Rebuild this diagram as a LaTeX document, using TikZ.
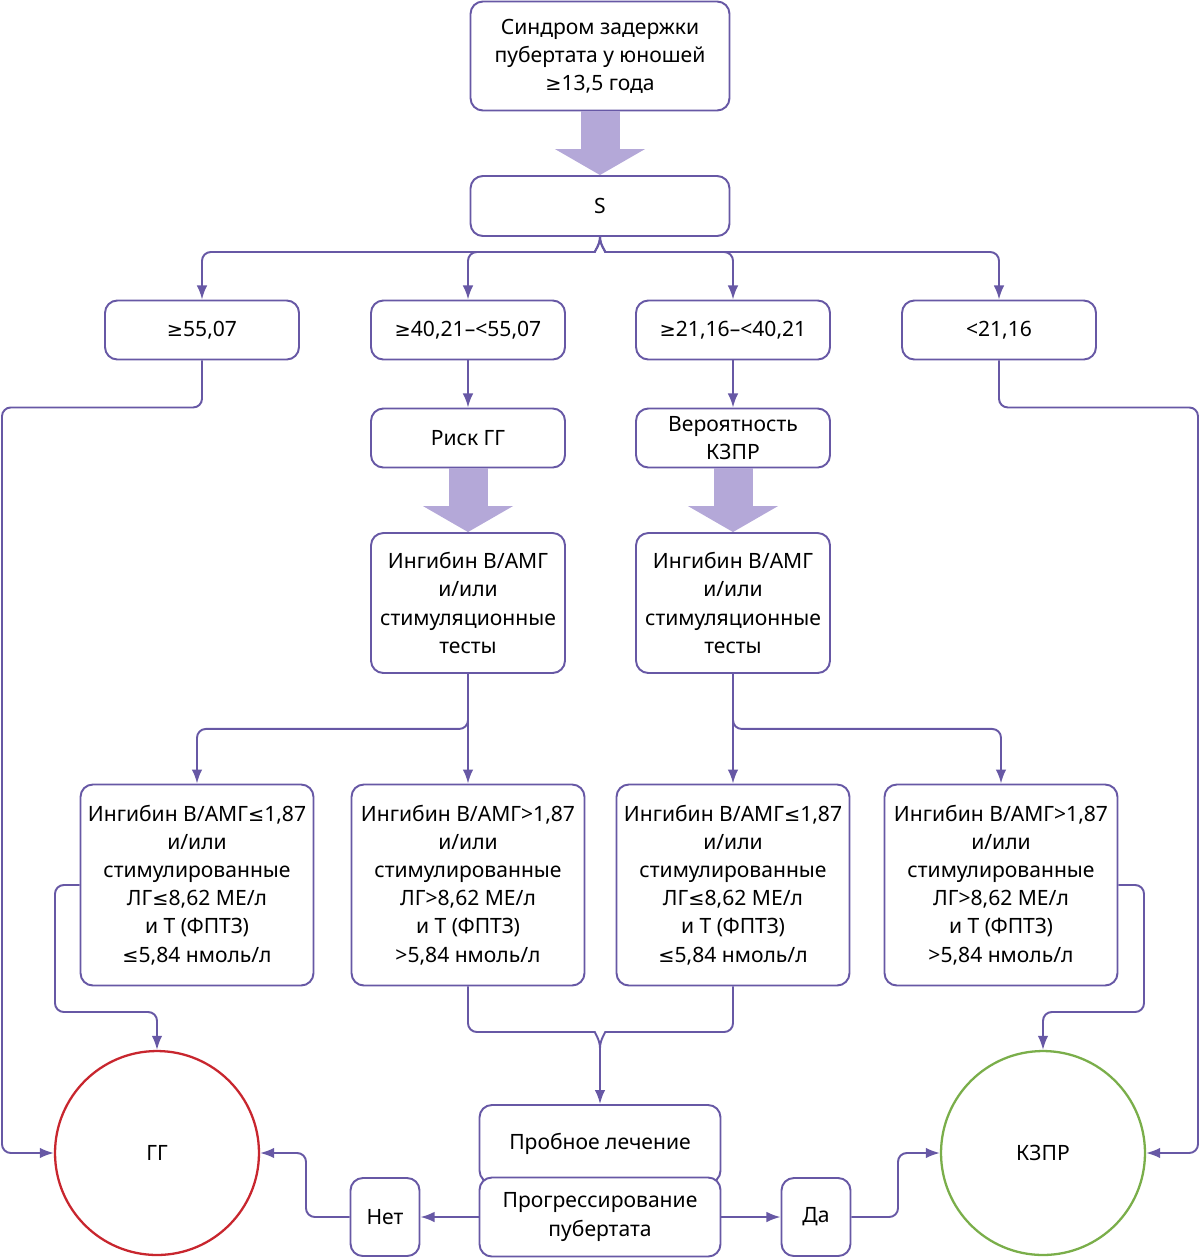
\documentclass[tikz,border=0pt]{standalone}
\usepackage{fontspec}
\setmainfont{Noto Sans}
\newfontfamily\symfont{DejaVu Sans}
\usetikzlibrary{arrows.meta,positioning}

\newcommand{\gesym}{{\symfont\fontsize{11}{16}\selectfont ≥}}
\newcommand{\lesym}{{\symfont\fontsize{11}{16}\selectfont ≤}}

\definecolor{lineviolet}{RGB}{103,88,165}
\definecolor{fatviolet}{RGB}{180,168,216}
\definecolor{ggred}{RGB}{200,38,46}
\definecolor{kzgreen}{RGB}{122,174,74}

\tikzset{
    box/.style={draw=lineviolet, line width=1.1pt, rounded corners=7pt, fill=white,
        align=center, inner sep=2pt, font=\fontsize{12}{16}\selectfont},
    link/.style={draw=lineviolet, line width=1.1pt, rounded corners=5pt,
        -{Latex[length=8pt,width=6pt]}},
    fat/.style={draw=fatviolet, line width=0.78cm,
        -{Triangle[length=0.52cm,width=1.78cm]}},
    outcome/.style={circle, line width=1.3pt, minimum size=4.08cm,
        font=\fontsize{12}{16}\selectfont},
}

\begin{document}
\begin{tikzpicture}[x=0.02cm,y=-0.02cm]
    \useasboundingbox (0,0) rectangle (1200,1258);

    % top of the scheme
    \node[box, minimum width=5.18cm, minimum height=2.18cm] (start) at (600,56)
        {Синдром задержки\\пубертата у юношей\\\gesym13,5 года};
    \node[box, minimum width=5.18cm, minimum height=1.2cm] (s) at (600,206) {S};

    % S ranges
    \node[box, minimum width=3.88cm, minimum height=1.18cm] (r1) at (202,330) {\gesym55,07};
    \node[box, minimum width=3.88cm, minimum height=1.18cm] (r2) at (468,330) {\gesym40,21–<55,07};
    \node[box, minimum width=3.88cm, minimum height=1.18cm] (r3) at (733,330) {\gesym21,16–<40,21};
    \node[box, minimum width=3.88cm, minimum height=1.18cm] (r4) at (999,330) {<21,16};

    \node[box, minimum width=3.88cm, minimum height=1.18cm] (risk) at (468,438) {Риск ГГ};
    \node[box, minimum width=3.88cm, minimum height=1.18cm] (prob) at (733,438) {Вероятность\\КЗПР};

    \node[box, minimum width=3.88cm, minimum height=2.8cm] (t1) at (468,603)
        {Ингибин В/АМГ\\и/или\\стимуляционные\\тесты};
    \node[box, minimum width=3.88cm, minimum height=2.8cm] (t2) at (733,603)
        {Ингибин В/АМГ\\и/или\\стимуляционные\\тесты};

    % test results
    \node[box, minimum width=4.66cm, minimum height=4.02cm] (b1) at (197,885)
        {Ингибин В/АМГ\lesym1,87\\и/или\\стимулированные\\ЛГ\lesym8,62 МЕ/л\\и Т (ФПТЗ)\\\lesym5,84 нмоль/л};
    \node[box, minimum width=4.66cm, minimum height=4.02cm] (b2) at (468,885)
        {Ингибин В/АМГ>1,87\\и/или\\стимулированные\\ЛГ>8,62 МЕ/л\\и Т (ФПТЗ)\\>5,84 нмоль/л};
    \node[box, minimum width=4.66cm, minimum height=4.02cm] (b3) at (733,885)
        {Ингибин В/АМГ\lesym1,87\\и/или\\стимулированные\\ЛГ\lesym8,62 МЕ/л\\и Т (ФПТЗ)\\\lesym5,84 нмоль/л};
    \node[box, minimum width=4.66cm, minimum height=4.02cm] (b4) at (1001,885)
        {Ингибин В/АМГ>1,87\\и/или\\стимулированные\\ЛГ>8,62 МЕ/л\\и Т (ФПТЗ)\\>5,84 нмоль/л};

    % outcomes
    \node[outcome, draw=ggred] (gg) at (157,1153) {ГГ};
    \node[outcome, draw=kzgreen] (kz) at (1043,1153) {КЗПР};

    \node[box, minimum width=4.82cm, minimum height=1.56cm] (trial) at (600,1144) {Пробное лечение};
    \node[box, minimum width=4.82cm, minimum height=1.58cm] (prog) at (600,1217) {Прогрессирование\\пубертата};
    \node[box, minimum width=1.38cm, minimum height=1.56cm] (net) at (385,1217) {Нет};
    \node[box, minimum width=1.38cm, minimum height=1.56cm] (da) at (816,1217) {Да};

    \coordinate (mj) at (600,1048);

    % fat arrows
    \draw[fat] (start) -- (s.north);
    \draw[fat] (risk) -- (t1.north);
    \draw[fat] (prob) -- (t2.north);

    % connectors
    \draw[link] (s.south) to[out=-90,in=0] (586,252) -| (r1.north);
    \draw[link] (s.south) to[out=-90,in=0] (586,252) -| (r2.north);
    \draw[link] (s.south) to[out=-90,in=180] (614,252) -| (r3.north);
    \draw[link] (s.south) to[out=-90,in=180] (614,252) -| (r4.north);

    \draw[link] (r2) -- (risk);
    \draw[link] (r3) -- (prob);
    \draw[link] (r1.south) -- ++(0,47) -| (2,1153) -- (gg.west);
    \draw[link] (r4.south) -- ++(0,47) -| (1198,1153) -- (kz.east);

    \draw[link] (t1.south) -- ++(0,55) -| (b1.north);
    \draw[link] (t1.south) -- (b2.north);
    \draw[link] (t2.south) -- ++(0,55) -| (b4.north);
    \draw[link] (t2.south) -- (b3.north);

    \draw[link] (b1.west) -| (55,1012) -| (gg.north);
    \draw[link] (b4.east) -| (1144,1012) -| (kz.north);

    \draw[link, -] (b2.south) |- (586,1032) to[out=0,in=90] (mj);
    \draw[link, -] (b3.south) |- (614,1032) to[out=180,in=90] (mj);
    \draw[link] (mj) -- (trial.north);

    \draw[link] (prog.west) -- (net.east);
    \draw[link] (prog.east) -- (da.west);
    \draw[link] (net.west) -| (306,1153) -- (gg.east);
    \draw[link] (da.east) -| (898,1153) -- (kz.west);
\end{tikzpicture}
\end{document}
